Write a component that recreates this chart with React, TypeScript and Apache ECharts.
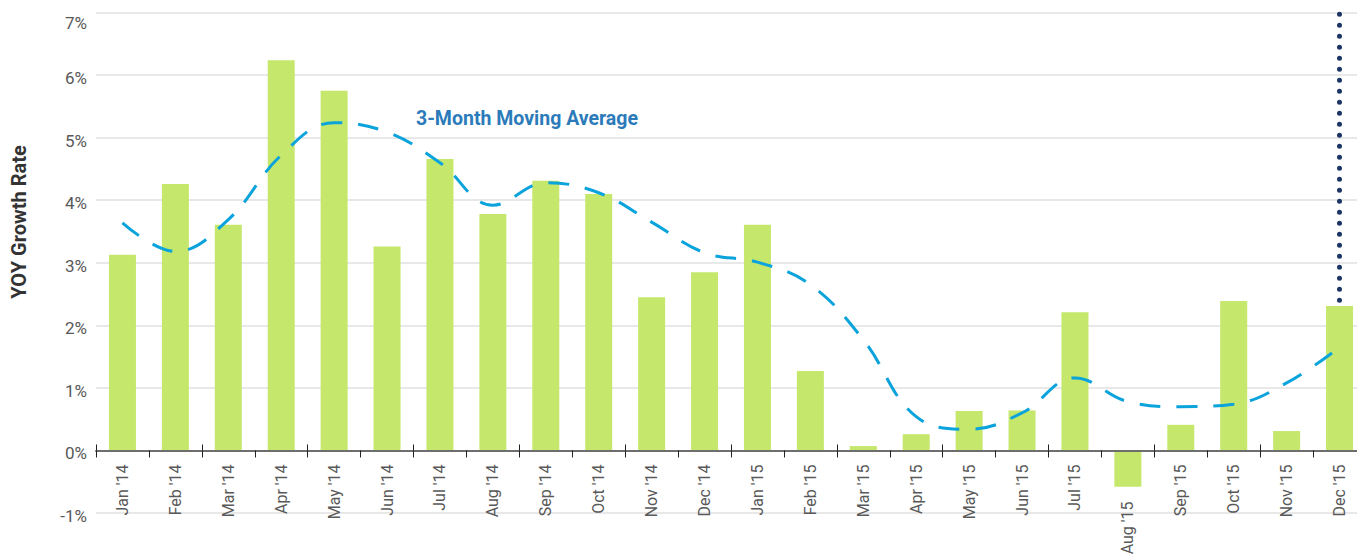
import React, { useEffect, useRef } from "react";
import * as echarts from "echarts";

const categories = [
  "Jan '14", "Feb '14", "Mar '14", "Apr '14", "May '14", "Jun '14",
  "Jul '14", "Aug '14", "Sep '14", "Oct '14", "Nov '14", "Dec '14",
  "Jan '15", "Feb '15", "Mar '15", "Apr '15", "May '15", "Jun '15",
  "Jul '15", "Aug '15", "Sep '15", "Oct '15", "Nov '15", "Dec '15",
];

const yoyGrowth = [
  3.13, 4.26, 3.61, 6.24, 5.75, 3.26,
  4.66, 3.78, 4.31, 4.1, 2.45, 2.85,
  3.61, 1.27, 0.07, 0.26, 0.63, 0.64,
  2.21, -0.58, 0.41, 2.39, 0.31, 2.31,
];

const movingAverage = [
  3.64, 3.18, 3.69, 4.72, 5.24, 5.09,
  4.6, 3.92, 4.28, 4.12, 3.65, 3.16,
  3.01, 2.65, 1.77, 0.54, 0.34, 0.6,
  1.16, 0.78, 0.7, 0.74, 1.08, 1.65,
];

const yTicks = { min: -1, max: 7, interval: 1 };
const markerCategory = "Dec '15";
const markerRange = [2.4, 7];
const lineLabel = "3-Month Moving Average";
const yTitle = "YOY Growth Rate";
const shiftedLabel = "Aug '15";

const FONT = "Roboto, sans-serif";

const GRID_TOP = 12.6;
const GRID_HEIGHT = 500.4;
// distance from the grid bottom (y = -1) up to the zero line
const ZERO_OFFSET = (GRID_HEIGHT * (0 - yTicks.min)) / (yTicks.max - yTicks.min);

export default function App() {
  const ref = useRef<HTMLDivElement>(null);
  useEffect(() => {
    document.body.style.margin = "0";
    const chart = echarts.init(ref.current!, undefined, { renderer: "svg" });
    chart.setOption({
      animation: false,
      textStyle: { fontFamily: FONT },
      grid: {
        left: 96,
        top: GRID_TOP,
        width: 1270,
        height: GRID_HEIGHT,
        containLabel: false,
        outerBoundsMode: "none",
      },
      xAxis: [
        {
          type: "category",
          data: categories,
          position: "bottom",
          offset: -ZERO_OFFSET,
          z: 5,
          axisLine: { onZero: false, lineStyle: { color: "#6e6e6e", width: 2 } },
          axisTick: { show: true, inside: false, length: 7, lineStyle: { color: "#222", width: 1 } },
          axisLabel: {
            rotate: 90,
            margin: 14,
            color: "#595959",
            fontSize: 16,
            fontFamily: FONT,
            formatter: (v: string) => (v === shiftedLabel ? `{low|${v}}` : v),
            rich: {
              low: { padding: [0, 37, 0, 0], color: "#595959", fontSize: 16, fontFamily: FONT },
            },
          },
          splitLine: { show: false },
        },
        {
          type: "category",
          data: categories,
          position: "bottom",
          offset: -ZERO_OFFSET,
          z: 5,
          axisLine: { onZero: false, show: false },
          axisTick: { show: true, inside: true, length: 6, lineStyle: { color: "#222", width: 1 } },
          axisLabel: { show: false },
          splitLine: { show: false },
        },
      ],
      yAxis: {
        type: "value",
        min: yTicks.min,
        max: yTicks.max,
        interval: yTicks.interval,
        axisLine: { show: false },
        axisTick: { show: false },
        axisLabel: {
          margin: 9,
          color: "#595959",
          fontSize: 17,
          fontFamily: FONT,
          formatter: (v: number) => (v === yTicks.max ? `{top|${v}%}` : `{std|${v}%}`),
          rich: {
            top: { padding: [20, 0, 0, 0], color: "#595959", fontSize: 17, fontFamily: FONT },
            std: { padding: [6, 0, 0, 0], color: "#595959", fontSize: 17, fontFamily: FONT },
          },
        },
        splitLine: { lineStyle: { color: "#e0e0e0", width: 1.5 } },
      },
      graphic: [
        {
          type: "text",
          x: 19,
          y: 222,
          rotation: Math.PI / 2,
          style: {
            text: yTitle,
            fill: "#333333",
            font: `bold 20px ${FONT}`,
            textAlign: "center",
            textVerticalAlign: "middle",
          },
        },
        {
          type: "text",
          x: 416,
          y: 118,
          z: 10,
          style: {
            text: lineLabel,
            fill: "#2b7bba",
            font: `bold 19.5px ${FONT}`,
            textAlign: "left",
            textVerticalAlign: "middle",
          },
        },
      ],
      series: [
        {
          name: "YOY Growth",
          type: "bar",
          data: yoyGrowth,
          barWidth: 27,
          itemStyle: { color: "#c5e76c" },
          z: 2,
          markLine: {
            silent: true,
            symbol: ["none", "none"],
            label: { show: false },
            z: 6,
            lineStyle: { color: "#1b3565", width: 5, type: [0.1, 10.9], cap: "round" },
            data: [[{ coord: [markerCategory, markerRange[0]] }, { coord: [markerCategory, markerRange[1]] }]],
          },
        },
        {
          name: lineLabel,
          type: "line",
          data: movingAverage,
          smooth: 0.4,
          symbol: "none",
          z: 3,
          lineStyle: { color: "#0ba3dc", width: 3, type: [21, 16] },
        },
      ],
    });
    return () => chart.dispose();
  }, []);
  return <div ref={ref} style={{ width: 1357, height: 554 }} />;
}
